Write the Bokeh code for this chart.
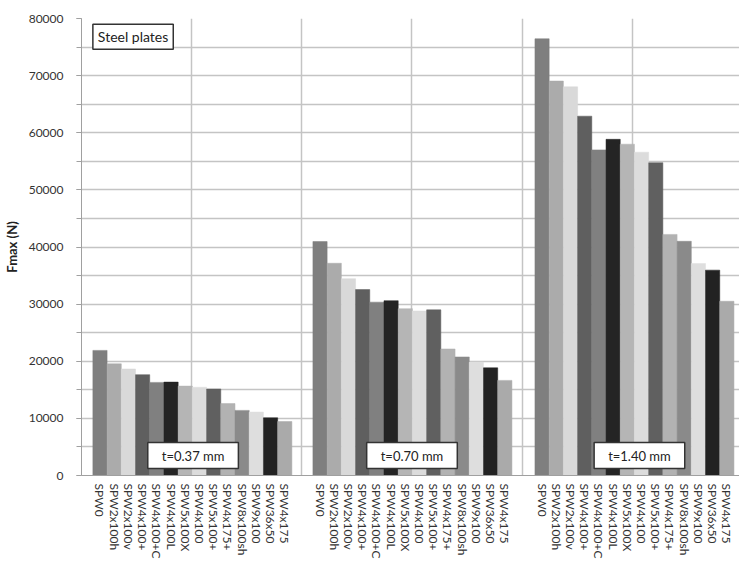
import math
from bokeh.plotting import figure
from bokeh.models import Range1d, FixedTicker, SingleIntervalTicker, Label, ColumnDataSource
from bokeh.embed import file_html
from bokeh.resources import INLINE

specimens = ["SPW0", "SPW2x100h", "SPW2x100v", "SPW4x100+", "SPW4x100+C", "SPW4x100L",
             "SPW5x100X", "SPW4x100", "SPW5x100+", "SPW4x175+", "SPW8x100sh", "SPW9x100",
             "SPW36x50", "SPW4x175"]
thickness_labels = ["t=0.37 mm", "t=0.70 mm", "t=1.40 mm"]
fmax_t037 = [21900, 19550, 18650, 17650, 16300, 16350, 15650, 15450, 15150, 12600, 11400, 11100, 10100, 9450]
fmax_t070 = [40950, 37150, 34450, 32550, 30350, 30600, 29200, 28800, 29000, 22150, 20750, 19850, 18850, 16650]
fmax_t140 = [76450, 69050, 68050, 62900, 57000, 58850, 58000, 56600, 54750, 42200, 41000, 37100, 35950, 30500]
bar_colors = ["#7f7f7f", "#ababab", "#d9d9d9", "#5f5f5f", "#808080", "#242424", "#b5b5b5",
              "#dcdcdc", "#606060", "#b2b2b2", "#8a8a8a", "#dedede", "#222222", "#aaaaaa"]
y_ticks = [0, 10000, 20000, 30000, 40000, 50000, 60000, 70000, 80000]

groups = [fmax_t037, fmax_t070, fmax_t140]
GROUP_SPAN = 15.5
BAR_OFFSETS = [0.8, 0.78, 0.9]
LABEL_SHIFT = [0.1, 0.0, 0.5]

xs, tops, cols, names = [], [], [], []
for g, vals in enumerate(groups):
    for i, v in enumerate(vals):
        xs.append(g * GROUP_SPAN + BAR_OFFSETS[g] + i + 0.5)
        tops.append(v)
        cols.append(bar_colors[i])
        names.append(specimens[i])

src = ColumnDataSource(dict(x=xs, top=tops, color=cols, name=names))

FONT = "Lato"
TXT = "#333333"

p = figure(width=739, height=561, output_backend="svg", toolbar_location=None,
           x_range=Range1d(0, 46.29), y_range=Range1d(0, 80000),
           min_border_left=0, min_border_right=0, min_border_top=18, min_border_bottom=0)
p.outline_line_color = None
p.background_fill_color = "white"

p.vbar(x="x", top="top", bottom=0, width=1.0, fill_color="color", line_color="color",
       line_width=0.5, source=src)

# y axis
yax = p.yaxis[0]
yax.ticker = FixedTicker(ticks=y_ticks, minor_ticks=list(range(0, 80001, 5000)))
yax.major_label_text_font = FONT
yax.major_label_text_font_size = "12px"
yax.major_label_text_color = TXT
yax.major_tick_out = 5
yax.major_tick_in = 0
yax.minor_tick_out = 5
yax.minor_tick_in = 0
yax.major_tick_line_color = "#a0a0a0"
yax.minor_tick_line_color = "#a0a0a0"
yax.axis_line_color = "#a0a0a0"
yax.major_label_standoff = 13
yax.axis_label = "Fmax (N)"
yax.axis_label_text_font = FONT
yax.axis_label_text_font_style = "bold"
yax.axis_label_text_font_size = "13px"
yax.axis_label_text_color = "#222222"
yax.axis_label_standoff = 6

# x axis
xax = p.xaxis[0]
xax.ticker = FixedTicker(ticks=xs)
xax.major_label_overrides = {x: n for x, n in zip(xs, names)}
xax.major_label_orientation = -math.pi / 2
xax.major_label_text_font = FONT
xax.major_label_text_font_size = "12px"
xax.major_label_text_color = TXT
xax.major_tick_out = 0
xax.major_tick_in = 0
xax.minor_tick_out = 0
xax.minor_tick_in = 0
xax.axis_line_color = "#a0a0a0"
xax.major_label_standoff = 8

# grids
p.ygrid.ticker = SingleIntervalTicker(interval=5000)
p.ygrid.grid_line_color = "#c4c4c4"
p.ygrid.grid_line_width = 1.5
p.xgrid.ticker = FixedTicker(ticks=[k * GROUP_SPAN / 2 for k in range(6)])
p.xgrid.grid_line_color = "#c4c4c4"
p.xgrid.grid_line_width = 1.5

# boxed labels
for g, lab in enumerate(thickness_labels):
    p.add_layout(Label(x=g * GROUP_SPAN + GROUP_SPAN / 2 + LABEL_SHIFT[g], y=3500, text=lab,
                       text_align="center", text_baseline="middle",
                       text_font=FONT, text_font_size="13px", text_color="#222222",
                       background_fill_color="white", border_line_color="#333333",
                       border_line_width=1.5,
                       padding=dict(left=14, right=14, top=5, bottom=5)))

p.add_layout(Label(x=0.8, y=76800, text="Steel plates", text_align="left", text_baseline="middle",
                   text_font=FONT, text_font_size="14px", text_color="#222222",
                   background_fill_color="white", border_line_color="#333333",
                   border_line_width=1.5,
                   padding=dict(left=5, right=5, top=4, bottom=4)))

open("out.html", "w").write(file_html(p, INLINE))
